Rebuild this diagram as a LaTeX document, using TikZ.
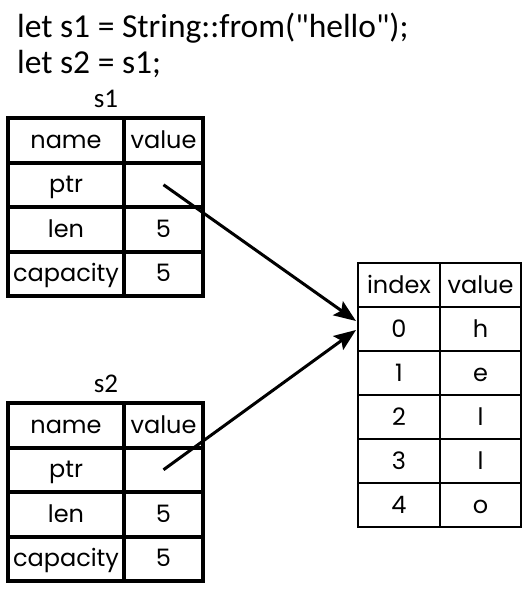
\documentclass[tikz,border=0pt]{standalone}
\usepackage{fontspec}
\usepackage{tikz}
\usetikzlibrary{arrows.meta, positioning}
\newfontfamily\codefont{Carlito}
\newfontfamily\tabfont{Poppins}
\tikzset{
  code/.style     = {font=\codefont\fontsize{33.5}{38}\selectfont, inner sep=0pt},
  varlabel/.style = {font=\codefont\fontsize{27}{30}\selectfont, inner sep=0pt, anchor=base},
  cell/.style     = {rectangle, draw=black, line width=4pt, outer sep=0pt, inner sep=0pt,
                     minimum height=44.5pt, text height=18pt, text depth=2pt,
                     font=\tabfont\fontsize{24}{26}\selectfont},
  namecell/.style = {cell, minimum width=116pt},
  valcell/.style  = {cell, minimum width=79pt},
  idxcell/.style  = {cell, line width=2.5pt, minimum height=44pt, minimum width=82pt},
  chrcell/.style  = {idxcell, minimum width=81pt},
  ptrarr/.style   = {-{Stealth[length=22pt, width=17pt, inset=4pt]}, line width=3pt}
}
\begin{document}
\begin{tikzpicture}[x=1pt, y=-1pt]
  \useasboundingbox (0,0) rectangle (528,613);
  \node[code, anchor=base west] (l1) at (17,37) {let s1 = String::from("hello");};
  \node[code, anchor=base west] (l2) at (17,73) {let s2 = s1;};

  % s1
  \node[varlabel] (s1lab) at (106,107) {s1};
  \node[namecell, anchor=north west] (s1h) at (8,118) {name};
  \node[valcell] (s1hv) [right=0pt of s1h] {value};
  \node[namecell] (s1p) [below=0pt of s1h] {ptr};
  \node[valcell]  (s1pv) [right=0pt of s1p] {};
  \node[namecell] (s1l) [below=0pt of s1p] {len};
  \node[valcell]  (s1lv) [right=0pt of s1l] {5};
  \node[namecell] (s1c) [below=0pt of s1l] {capacity};
  \node[valcell]  (s1cv) [right=0pt of s1c] {5};

  % s2
  \node[varlabel] (s2lab) at (106,392) {s2};
  \node[namecell, anchor=north west] (s2h) at (8,403) {name};
  \node[valcell] (s2hv) [right=0pt of s2h] {value};
  \node[namecell] (s2p) [below=0pt of s2h] {ptr};
  \node[valcell]  (s2pv) [right=0pt of s2p] {};
  \node[namecell] (s2l) [below=0pt of s2p] {len};
  \node[valcell]  (s2lv) [right=0pt of s2l] {5};
  \node[namecell] (s2c) [below=0pt of s2l] {capacity};
  \node[valcell]  (s2cv) [right=0pt of s2c] {5};

  % heap buffer
  \node[idxcell, anchor=north west] (ah) at (358,263) {index};
  \node[chrcell] (ahv) [right=0pt of ah] {value};
  \node[idxcell] (a0) [below=0pt of ah] {0};
  \node[chrcell] (a0v) [right=0pt of a0] {h};
  \node[idxcell] (a1) [below=0pt of a0] {1};
  \node[chrcell] (a1v) [right=0pt of a1] {e};
  \node[idxcell] (a2) [below=0pt of a1] {2};
  \node[chrcell] (a2v) [right=0pt of a2] {l};
  \node[idxcell] (a3) [below=0pt of a2] {3};
  \node[chrcell] (a3v) [right=0pt of a3] {l};
  \node[idxcell] (a4) [below=0pt of a3] {4};
  \node[chrcell] (a4v) [right=0pt of a4] {o};

  \draw[ptrarr] (s1pv.center) -- ([xshift=-2pt, yshift=8pt]a0.west);
  \draw[ptrarr] (s2pv.center) -- ([xshift=-2pt, yshift=-1pt]a0.west);
\end{tikzpicture}
\end{document}
